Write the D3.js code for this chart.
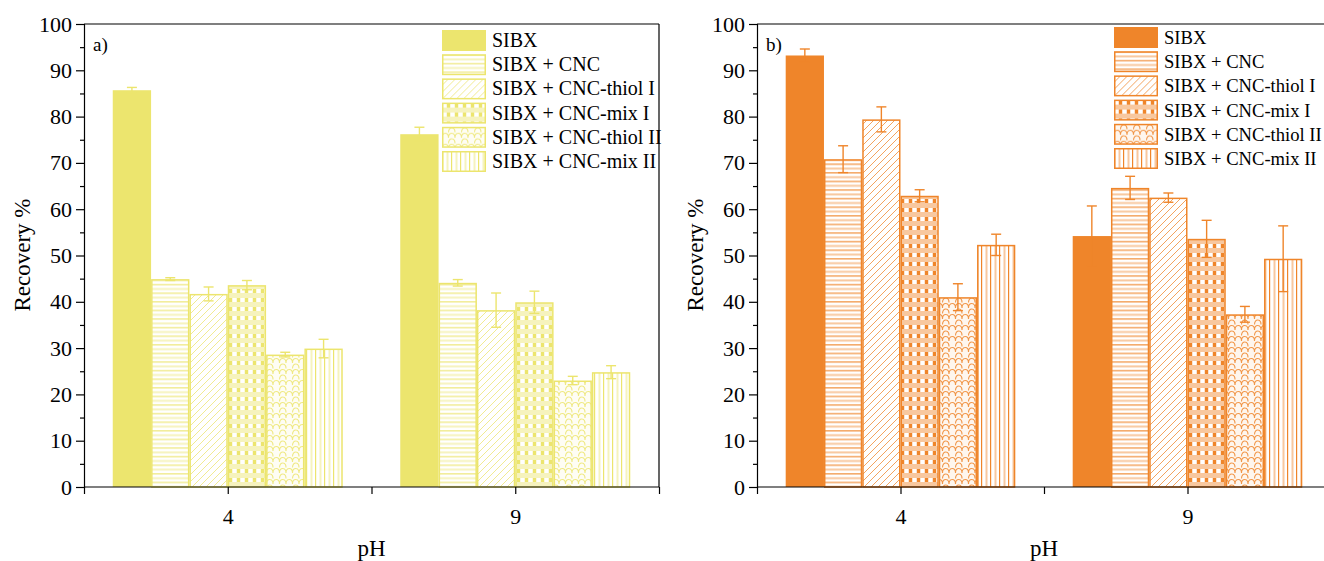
<!DOCTYPE html>
<html>
<head>
<meta charset="utf-8">
<script src="https://cdn.jsdelivr.net/npm/d3@7"></script>
<style>
body { margin: 0; background: #fff; }
svg { display: block; }
svg text { font-family: "Liberation Serif", "Times New Roman", serif; }
</style>
</head>
<body>
<div id="chart"></div>
<script>
// --- Data ---
const categories = ["4", "9"];
const seriesNames = ["SIBX", "SIBX + CNC", "SIBX + CNC-thiol I", "SIBX + CNC-mix I", "SIBX + CNC-thiol II", "SIBX + CNC-mix II"];
const yTicks = [0, 10, 20, 30, 40, 50, 60, 70, 80, 90, 100];

// panel a, one row per series: [pH 4, pH 9]
const recoveryA = [[85.7, 76.2], [44.9, 44.1], [41.7, 38.2], [43.6, 39.9], [28.6, 23.0], [29.9, 24.8]];
const errorA = [[0.6, 1.5], [0.3, 0.7], [1.5, 3.7], [1.0, 2.4], [0.5, 0.9], [2.0, 1.4]];

// panel b
const recoveryB = [[93.2, 54.2], [70.8, 64.6], [79.4, 62.5], [62.9, 53.6], [41.0, 37.3], [52.3, 49.3]];
const errorB = [[1.4, 6.5], [2.9, 2.5], [2.7, 1.0], [1.3, 4.0], [2.9, 1.7], [2.3, 7.1]];

// --- Setup ---
const w = 1324, h = 561;
const svg = d3.select("#chart").append("svg").attr("width", w).attr("height", h);
const defs = svg.append("defs");

function makePatterns(prefix, color) {
  // horizontal lines
  let p = defs.append("pattern").attr("id", prefix + "1")
    .attr("patternUnits", "userSpaceOnUse").attr("width", 10).attr("height", 8.6);
  p.append("rect").attr("x", 0).attr("y", 0.3).attr("width", 10).attr("height", 1.1).attr("fill", color);
  p.append("rect").attr("x", 0).attr("y", 4.2).attr("width", 10).attr("height", 2).attr("fill", color).attr("opacity", 0.45);

  // diagonal lines
  p = defs.append("pattern").attr("id", prefix + "2")
    .attr("patternUnits", "userSpaceOnUse").attr("width", 7).attr("height", 7);
  p.append("path").attr("d", "M-1,8 L8,-1 M-1,1 L1,-1 M6,8 L8,6")
    .attr("stroke", color).attr("stroke-width", 1).attr("opacity", 0.75);

  // plaid / checks
  p = defs.append("pattern").attr("id", prefix + "3")
    .attr("patternUnits", "userSpaceOnUse").attr("width", 8).attr("height", 9);
  p.append("rect").attr("width", 8).attr("height", 9).attr("fill", color).attr("opacity", 0.45);
  p.append("rect").attr("x", 0.5).attr("y", 1).attr("width", 4).attr("height", 4).attr("fill", "#fff");
  p.append("rect").attr("x", 5).attr("y", 1).attr("width", 3).attr("height", 4).attr("fill", color);

  // scales
  p = defs.append("pattern").attr("id", prefix + "4")
    .attr("patternUnits", "userSpaceOnUse").attr("width", 13).attr("height", 11);
  p.append("rect").attr("width", 13).attr("height", 11).attr("fill", color).attr("opacity", 0.08);
  p.append("path").attr("d", "M0,11 C0,5 6.5,5 6.5,11 M6.5,5.5 C6.5,-0.5 13,-0.5 13,5.5 M-6.5,5.5 C-6.5,-0.5 0,-0.5 0,5.5 M6.5,11 C6.5,5 13,5 13,11")
    .attr("fill", "none").attr("stroke", color).attr("stroke-width", 1.1).attr("opacity", 0.85);

  // vertical lines
  p = defs.append("pattern").attr("id", prefix + "5")
    .attr("patternUnits", "userSpaceOnUse").attr("width", 9).attr("height", 10);
  p.append("rect").attr("x", 0).attr("width", 1.2).attr("height", 10).attr("fill", color);
  p.append("rect").attr("x", 4.5).attr("width", 2).attr("height", 10).attr("fill", color).attr("opacity", 0.45);
}

function drawPanel(cfg) {
  const g = svg.append("g");
  const color = cfg.color;
  makePatterns(cfg.id, color);
  const fillFor = s => s === 0 ? color : "url(#" + cfg.id + s + ")";

  const x = d3.scaleLinear().domain([0.5, 2.5]).range(cfg.xRange);
  const y = d3.scaleLinear().domain([0, 100]).range([487, 24]);
  const half = 0.4 * (x(1) - x(0));
  const sub = d3.scaleBand().domain(d3.range(seriesNames.length)).range([-half, half]);
  const bw = sub.bandwidth();

  // flatten into rows for drawing
  const rows = [];
  cfg.values.forEach((vals, s) => vals.forEach((v, c) => rows.push({ s: s, c: c, v: v, e: cfg.errors[s][c] })));

  g.selectAll("rect.bar").data(rows).enter().append("rect")
    .attr("class", "bar")
    .attr("x", d => x(d.c + 1) + sub(d.s) + (d.s === 0 ? 0 : 0.75))
    .attr("y", d => y(d.v) + (d.s === 0 ? 0 : 0.75))
    .attr("width", d => bw - (d.s === 0 ? 0 : 1.5))
    .attr("height", d => y(0) - y(d.v) - (d.s === 0 ? 0 : 0.75))
    .attr("fill", d => fillFor(d.s))
    .attr("stroke", d => d.s === 0 ? "none" : color)
    .attr("stroke-width", 1.5);

  // error bars
  const eb = g.selectAll("g.err").data(rows).enter().append("g")
    .attr("class", "err")
    .attr("stroke", color).attr("stroke-width", 1.4);
  eb.append("line")
    .attr("x1", d => x(d.c + 1) + sub(d.s) + bw / 2).attr("x2", d => x(d.c + 1) + sub(d.s) + bw / 2)
    .attr("y1", d => y(d.v + d.e)).attr("y2", d => y(d.v - d.e));
  eb.append("line")
    .attr("x1", d => x(d.c + 1) + sub(d.s) + bw / 2 - 5).attr("x2", d => x(d.c + 1) + sub(d.s) + bw / 2 + 5)
    .attr("y1", d => y(d.v + d.e)).attr("y2", d => y(d.v + d.e));
  eb.append("line")
    .attr("x1", d => x(d.c + 1) + sub(d.s) + bw / 2 - 5).attr("x2", d => x(d.c + 1) + sub(d.s) + bw / 2 + 5)
    .attr("y1", d => y(d.v - d.e)).attr("y2", d => y(d.v - d.e));

  // frame top and right
  g.append("line").attr("x1", cfg.xRange[0]).attr("x2", cfg.xRange[1]).attr("y1", y(100)).attr("y2", y(100))
    .attr("stroke", "#000").attr("stroke-width", 1.2);
  g.append("line").attr("x1", cfg.xRange[1]).attr("x2", cfg.xRange[1]).attr("y1", y(100)).attr("y2", y(0))
    .attr("stroke", "#000").attr("stroke-width", 1.2);

  // y axis
  const yAxis = d3.axisLeft(y).tickValues(yTicks).tickSize(8).tickPadding(4);
  const ya = g.append("g").attr("transform", "translate(" + cfg.xRange[0] + ",0)").call(yAxis);
  const yMinor = d3.axisLeft(y).tickValues(d3.range(5, 100, 10)).tickSize(4).tickFormat("");
  const ym = g.append("g").attr("transform", "translate(" + cfg.xRange[0] + ",0)").call(yMinor);
  ym.select(".domain").remove();

  // x axis
  const xAxis = d3.axisBottom(x).tickValues([0.5, 1, 1.5, 2, 2.5]).tickSize(7).tickPadding(14)
    .tickFormat(d => Number.isInteger(d) ? categories[d - 1] : "");
  const xa = g.append("g").attr("transform", "translate(0," + y(0) + ")").call(xAxis);

  [ya, ym, xa].forEach(a => {
    a.selectAll("path, line").attr("stroke", "#000").attr("stroke-width", 1.2);
    a.selectAll("text").attr("font-size", 22).attr("fill", "#000");
  });
  xa.select(".domain").attr("d", "M" + cfg.xRange[0] + ",0H" + cfg.xRange[1]);

  // axis titles
  g.append("text").attr("transform", "translate(" + cfg.yTitleX + ",255) rotate(-90)")
    .attr("text-anchor", "middle").attr("dominant-baseline", "central")
    .attr("font-size", 23).text("Recovery %");
  g.append("text").attr("x", x(1.5)).attr("y", 556)
    .attr("text-anchor", "middle").attr("font-size", 23).text("pH");

  // panel label
  g.append("text").attr("x", cfg.xRange[0] + 9).attr("y", 51).attr("font-size", 19).text(cfg.label);

  // legend
  const lg = g.append("g").attr("transform", "translate(" + cfg.legendX + "," + cfg.legendY + ")");
  const item = lg.selectAll("g").data(seriesNames).enter().append("g")
    .attr("transform", (d, i) => "translate(0," + (i * 24.2) + ")");
  item.append("rect")
    .attr("x", (d, i) => i === 0 ? 0 : 0.75).attr("y", (d, i) => i === 0 ? 0 : 0.75)
    .attr("width", (d, i) => i === 0 ? 44 : 42.5).attr("height", (d, i) => i === 0 ? 21 : 19.5)
    .attr("fill", (d, i) => fillFor(i))
    .attr("stroke", (d, i) => i === 0 ? "none" : color).attr("stroke-width", 1.5);
  item.append("text").attr("x", 50).attr("y", 17).attr("font-size", cfg.legendFont).text(d => d);
}

drawPanel({
  id: "pa", label: "a)", color: "#ece56e",
  values: recoveryA, errors: errorA,
  xRange: [84, 659], yTitleX: 22, legendX: 442, legendY: 30, legendFont: 20
});

drawPanel({
  id: "pb", label: "b)", color: "#ef852a",
  values: recoveryB, errors: errorB,
  xRange: [757, 1331], yTitleX: 695, legendX: 1114, legendY: 27, legendFont: 18.6
});
</script>
</body>
</html>
